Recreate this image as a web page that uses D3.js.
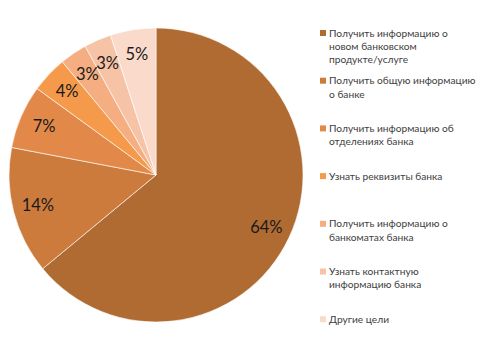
<!DOCTYPE html>
<html>
<head>
<meta charset="utf-8">
<script src="https://cdn.jsdelivr.net/npm/d3@7"></script>
<style>
  html, body { margin: 0; padding: 0; background: #fff; }
  svg { display: block; }
</style>
</head>
<body>
<svg id="chart" width="484" height="349"></svg>
<script>
// Цели обращения клиентов, доли в процентах
const categories = [
  "Получить информацию о\nновом банковском\nпродукте/услуге",
  "Получить общую информацию\nо банке",
  "Получить информацию об\nотделениях банка",
  "Узнать реквизиты банка",
  "Получить информацию о\nбанкоматах банка",
  "Узнать контактную\nинформацию банка",
  "Другие цели"
];
const values = [64, 14, 7, 4, 3, 3, 5];
const colors = ["#B06B32", "#CD7B3C", "#E2894A", "#F59A4B", "#F4AE82", "#F7C3A6", "#FADACB"];

const svg = d3.select("#chart");
const cx = 156, cy = 175, radius = 147;

const pie = d3.pie().sort(null).value(d => d.value);
const arcs = pie(values.map((v, i) => ({ value: v, name: categories[i], color: colors[i] })));

const arc = d3.arc().innerRadius(0).outerRadius(radius);
const labelArc = d3.arc().innerRadius(radius * 0.83).outerRadius(radius * 0.83);

const g = svg.append("g").attr("transform", `translate(${cx},${cy})`);

g.selectAll("path.slice")
  .data(arcs)
  .join("path")
  .attr("class", "slice")
  .attr("d", arc)
  .attr("fill", d => d.data.color)
  .attr("stroke", "#fff")
  .attr("stroke-width", 0.6);

g.selectAll("text.pct")
  .data(arcs)
  .join("text")
  .attr("class", "pct")
  .attr("transform", d => `translate(${labelArc.centroid(d)})`)
  .attr("text-anchor", "middle")
  .attr("dy", "0.35em")
  .attr("font-family", "Lato, 'Open Sans', sans-serif")
  .attr("font-size", 16.5)
  .attr("fill", "#1a1a1a")
  .text(d => d.data.value + "%");

// Легенда
const legend = svg.append("g").attr("transform", "translate(320,0)");
const item = legend.selectAll("g.item")
  .data(arcs)
  .join("g")
  .attr("class", "item")
  .attr("transform", (d, i) => `translate(0,${33 + i * 47.7})`);

item.append("rect")
  .attr("x", 0).attr("y", -3)
  .attr("width", 6).attr("height", 6)
  .attr("fill", d => d.data.color);

item.append("text")
  .attr("font-family", "Lato, 'Open Sans', sans-serif")
  .attr("font-size", 10.2)
  .attr("fill", "#404040")
  .selectAll("tspan")
  .data(d => d.data.name.split("\n"))
  .join("tspan")
  .attr("x", 9)
  .attr("y", (t, j) => j * 13.3)
  .attr("dy", "0.35em")
  .text(t => t);
</script>
</body>
</html>
